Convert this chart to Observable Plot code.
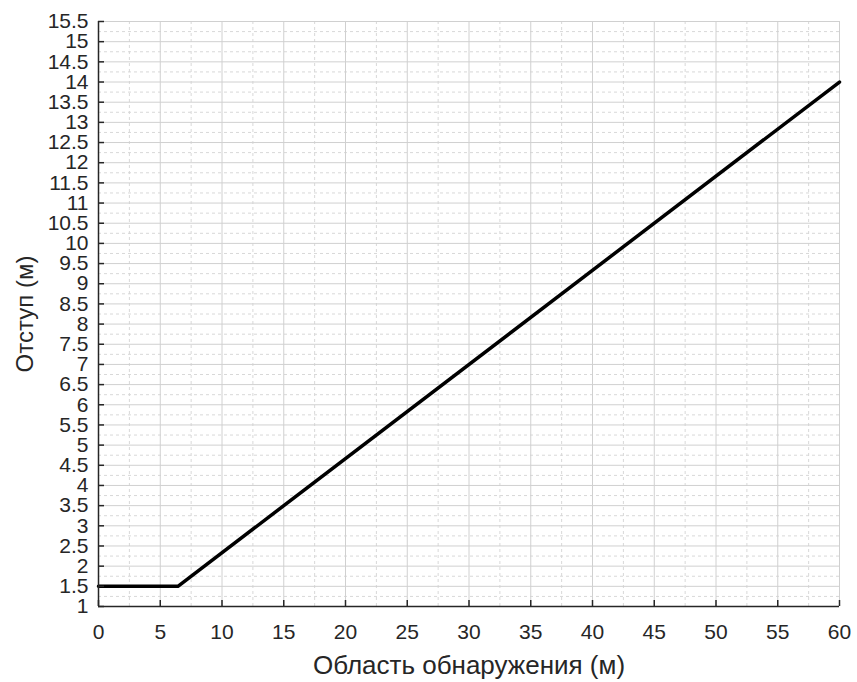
<!DOCTYPE html>
<html><head><meta charset="utf-8">
<script src="https://cdn.jsdelivr.net/npm/d3@7"></script>
<script src="https://cdn.jsdelivr.net/npm/@observablehq/plot@0.6"></script>
<style>body{margin:0;background:#fff}</style>
</head><body><div id="chart"></div>
<script>
const xTicks = [0,5,10,15,20,25,30,35,40,45,50,55,60];
const xMinor = [2.5,7.5,12.5,17.5,22.5,27.5,32.5,37.5,42.5,47.5,52.5,57.5];
const yTicks = [1,1.5,2,2.5,3,3.5,4,4.5,5,5.5,6,6.5,7,7.5,8,8.5,9,9.5,10,10.5,11,11.5,12,12.5,13,13.5,14,14.5,15,15.5];
const yMinor = [1.25,1.75,2.25,2.75,3.25,3.75,4.25,4.75,5.25,5.75,6.25,6.75,7.25,7.75,8.25,8.75,9.25,9.75,10.25,10.75,11.25,11.75,12.25,12.75,13.25,13.75,14.25,14.75,15.25];
const distance = [0, 6.43, 60];
const offset = [1.5, 1.5, 14];
const xLabel = "Область обнаружения (м)";
const yLabel = "Отступ (м)";

const W = 857, H = 682, mL = 98, mR = 18, mT = 21, mB = 76;
const innerW = W - mL - mR, innerH = H - mT - mB;
const data = distance.map((d, i) => ({d, o: offset[i]}));
const txt = "#262626";
const font = "'Liberation Sans', Arial, Helvetica, sans-serif";

const chart = Plot.plot({
  width: W, height: H,
  marginLeft: mL, marginRight: mR, marginTop: mT, marginBottom: mB,
  style: {fontFamily: font, color: txt, background: "#fff"},
  x: {domain: [0, 60], axis: null},
  y: {domain: [1, 15.5], axis: null},
  marks: [
    Plot.ruleX(xMinor, {stroke: "#d8d8d8", strokeDasharray: "3,3", strokeWidth: 1}),
    Plot.ruleY(yMinor, {stroke: "#d8d8d8", strokeDasharray: "3,3", strokeWidth: 1}),
    Plot.ruleX(xTicks, {stroke: "#d0d0d0", strokeWidth: 1}),
    Plot.ruleY(yTicks, {stroke: "#d0d0d0", strokeWidth: 1}),
    Plot.line(data, {x: "d", y: "o", stroke: "#000", strokeWidth: 3.5}),
    Plot.ruleX([0], {stroke: txt, strokeWidth: 1.5}),
    Plot.ruleY([1], {stroke: txt, strokeWidth: 1.5}),
    Plot.tickX(xTicks, {x: d => d, stroke: txt, strokeWidth: 1.5, insetTop: innerH - 6}),
    Plot.tickY(yTicks, {y: d => d, stroke: txt, strokeWidth: 1.5, insetRight: innerW - 6}),
    Plot.text(xTicks, {x: d => d, frameAnchor: "bottom", lineAnchor: "middle", dy: 26, text: d => String(d), fill: txt, fontSize: 21}),
    Plot.text(yTicks, {y: d => d, frameAnchor: "left", lineAnchor: "middle", dx: -10, textAnchor: "end", text: d => String(d), fill: txt, fontSize: 21}),
    Plot.text([xLabel], {frameAnchor: "bottom", lineAnchor: "middle", textAnchor: "middle", dy: 59, fill: txt, fontSize: 26}),
    Plot.text([yLabel], {frameAnchor: "left", lineAnchor: "middle", textAnchor: "middle", dx: -73, rotate: -90, fill: txt, fontSize: 24})
  ]
});
document.getElementById("chart").appendChild(chart);
</script>
</body></html>
